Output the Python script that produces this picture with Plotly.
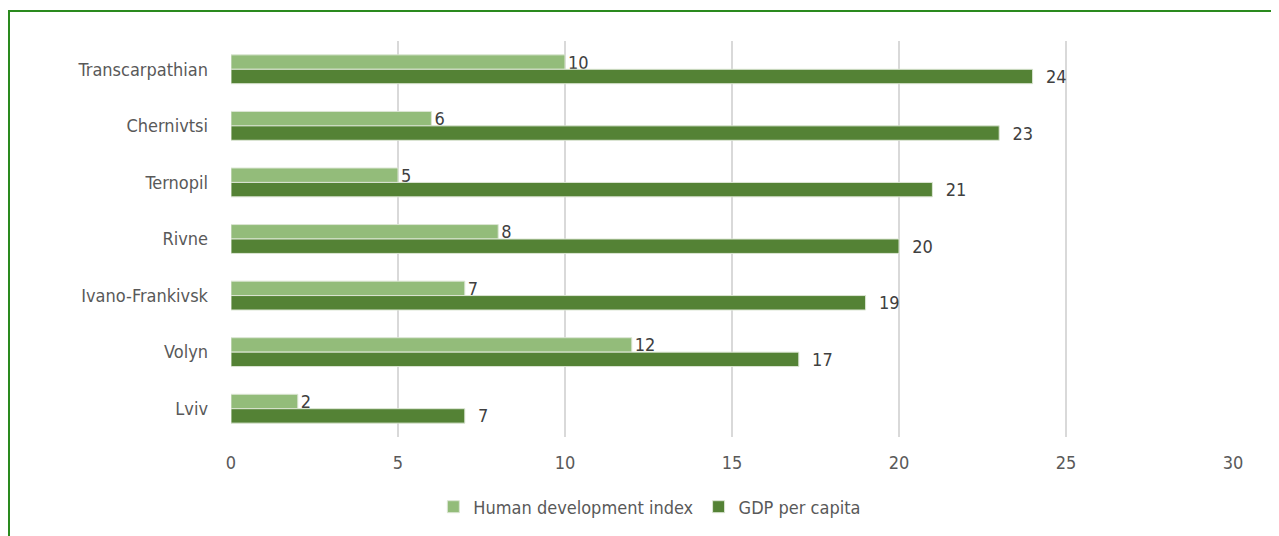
import plotly.graph_objects as go

categories = ["Transcarpathian", "Chernivtsi", "Ternopil", "Rivne", "Ivano-Frankivsk", "Volyn", "Lviv"]
hdi_values = [10, 6, 5, 8, 7, 12, 2]
gdp_values = [24, 23, 21, 20, 19, 17, 7]
x_ticks = [0, 5, 10, 15, 20, 25, 30]
series_names = ["Human development index", "GDP per capita"]

FONT = "DejaVu Sans Condensed, DejaVu Sans, sans-serif"
LIGHT = "#93BC7A"
DARK = "#548235"
NB = "\u00a0"
FS = 18

fig = go.Figure()
fig.add_trace(go.Bar(
    y=categories, x=hdi_values, orientation="h", name=series_names[0],
    marker=dict(color=LIGHT, line=dict(color="#DCE6D4", width=1)),
    text=[str(v) for v in hdi_values], textposition="outside",
    textfont=dict(family=FONT, size=FS, color="#404040"),
    constraintext="none", cliponaxis=False,
))
fig.add_trace(go.Bar(
    y=categories, x=gdp_values, orientation="h", name=series_names[1],
    marker=dict(color=DARK, line=dict(color="#DCE6D4", width=1)),
    text=[NB * 2 + str(v) for v in gdp_values], textposition="outside",
    textfont=dict(family=FONT, size=FS, color="#404040"),
    constraintext="none", cliponaxis=False,
))

# page offset of the figure div inside the browser (body margin)
OFF = 8
W, H = 1279 - OFF, 536 - OFF
L, R, T, B = 231 - OFF, 46, 41 - OFF, 99
pw, ph = W - L - R, H - T - B

def px_x(p):
    return (p - OFF - L) / pw

def px_y(p):
    return (H - B - (p - OFF)) / ph

border = dict(color="#2A8A1E", width=2)
fig.add_shape(type="line", xref="paper", yref="paper",
              x0=px_x(8), x1=px_x(1290), y0=px_y(11), y1=px_y(11), line=border)
fig.add_shape(type="line", xref="paper", yref="paper",
              x0=px_x(9), x1=px_x(9), y0=px_y(11), y1=px_y(560), line=border)

fig.update_layout(
    width=W, height=H,
    margin=dict(l=L, r=R, t=T, b=B, pad=0),
    paper_bgcolor="white", plot_bgcolor="white",
    barmode="group", bargap=0.49, bargroupgap=0,
    font=dict(family=FONT, size=FS, color="#595959"),
    showlegend=True,
    legend=dict(orientation="h", xref="container", yref="container",
                x=0.505, xanchor="center", y=1 - (507 - OFF) / H, yanchor="middle",
                font=dict(family=FONT, size=FS, color="#595959"),
                itemwidth=30, traceorder="normal"),
    xaxis=dict(range=[0, 30], tickvals=x_ticks, showgrid=True,
               gridcolor="#D9D9D9", gridwidth=1.5, zeroline=False,
               showline=False, ticks="", ticklabelstandoff=13,
               tickfont=dict(family=FONT, size=FS, color="#595959"),
               fixedrange=True),
    yaxis=dict(categoryorder="array", categoryarray=categories,
               autorange="reversed", showgrid=False, zeroline=False,
               showline=False, ticks="", ticklabelstandoff=22,
               tickfont=dict(family=FONT, size=FS, color="#595959"),
               fixedrange=True),
)

fig.write_html("out.html")
